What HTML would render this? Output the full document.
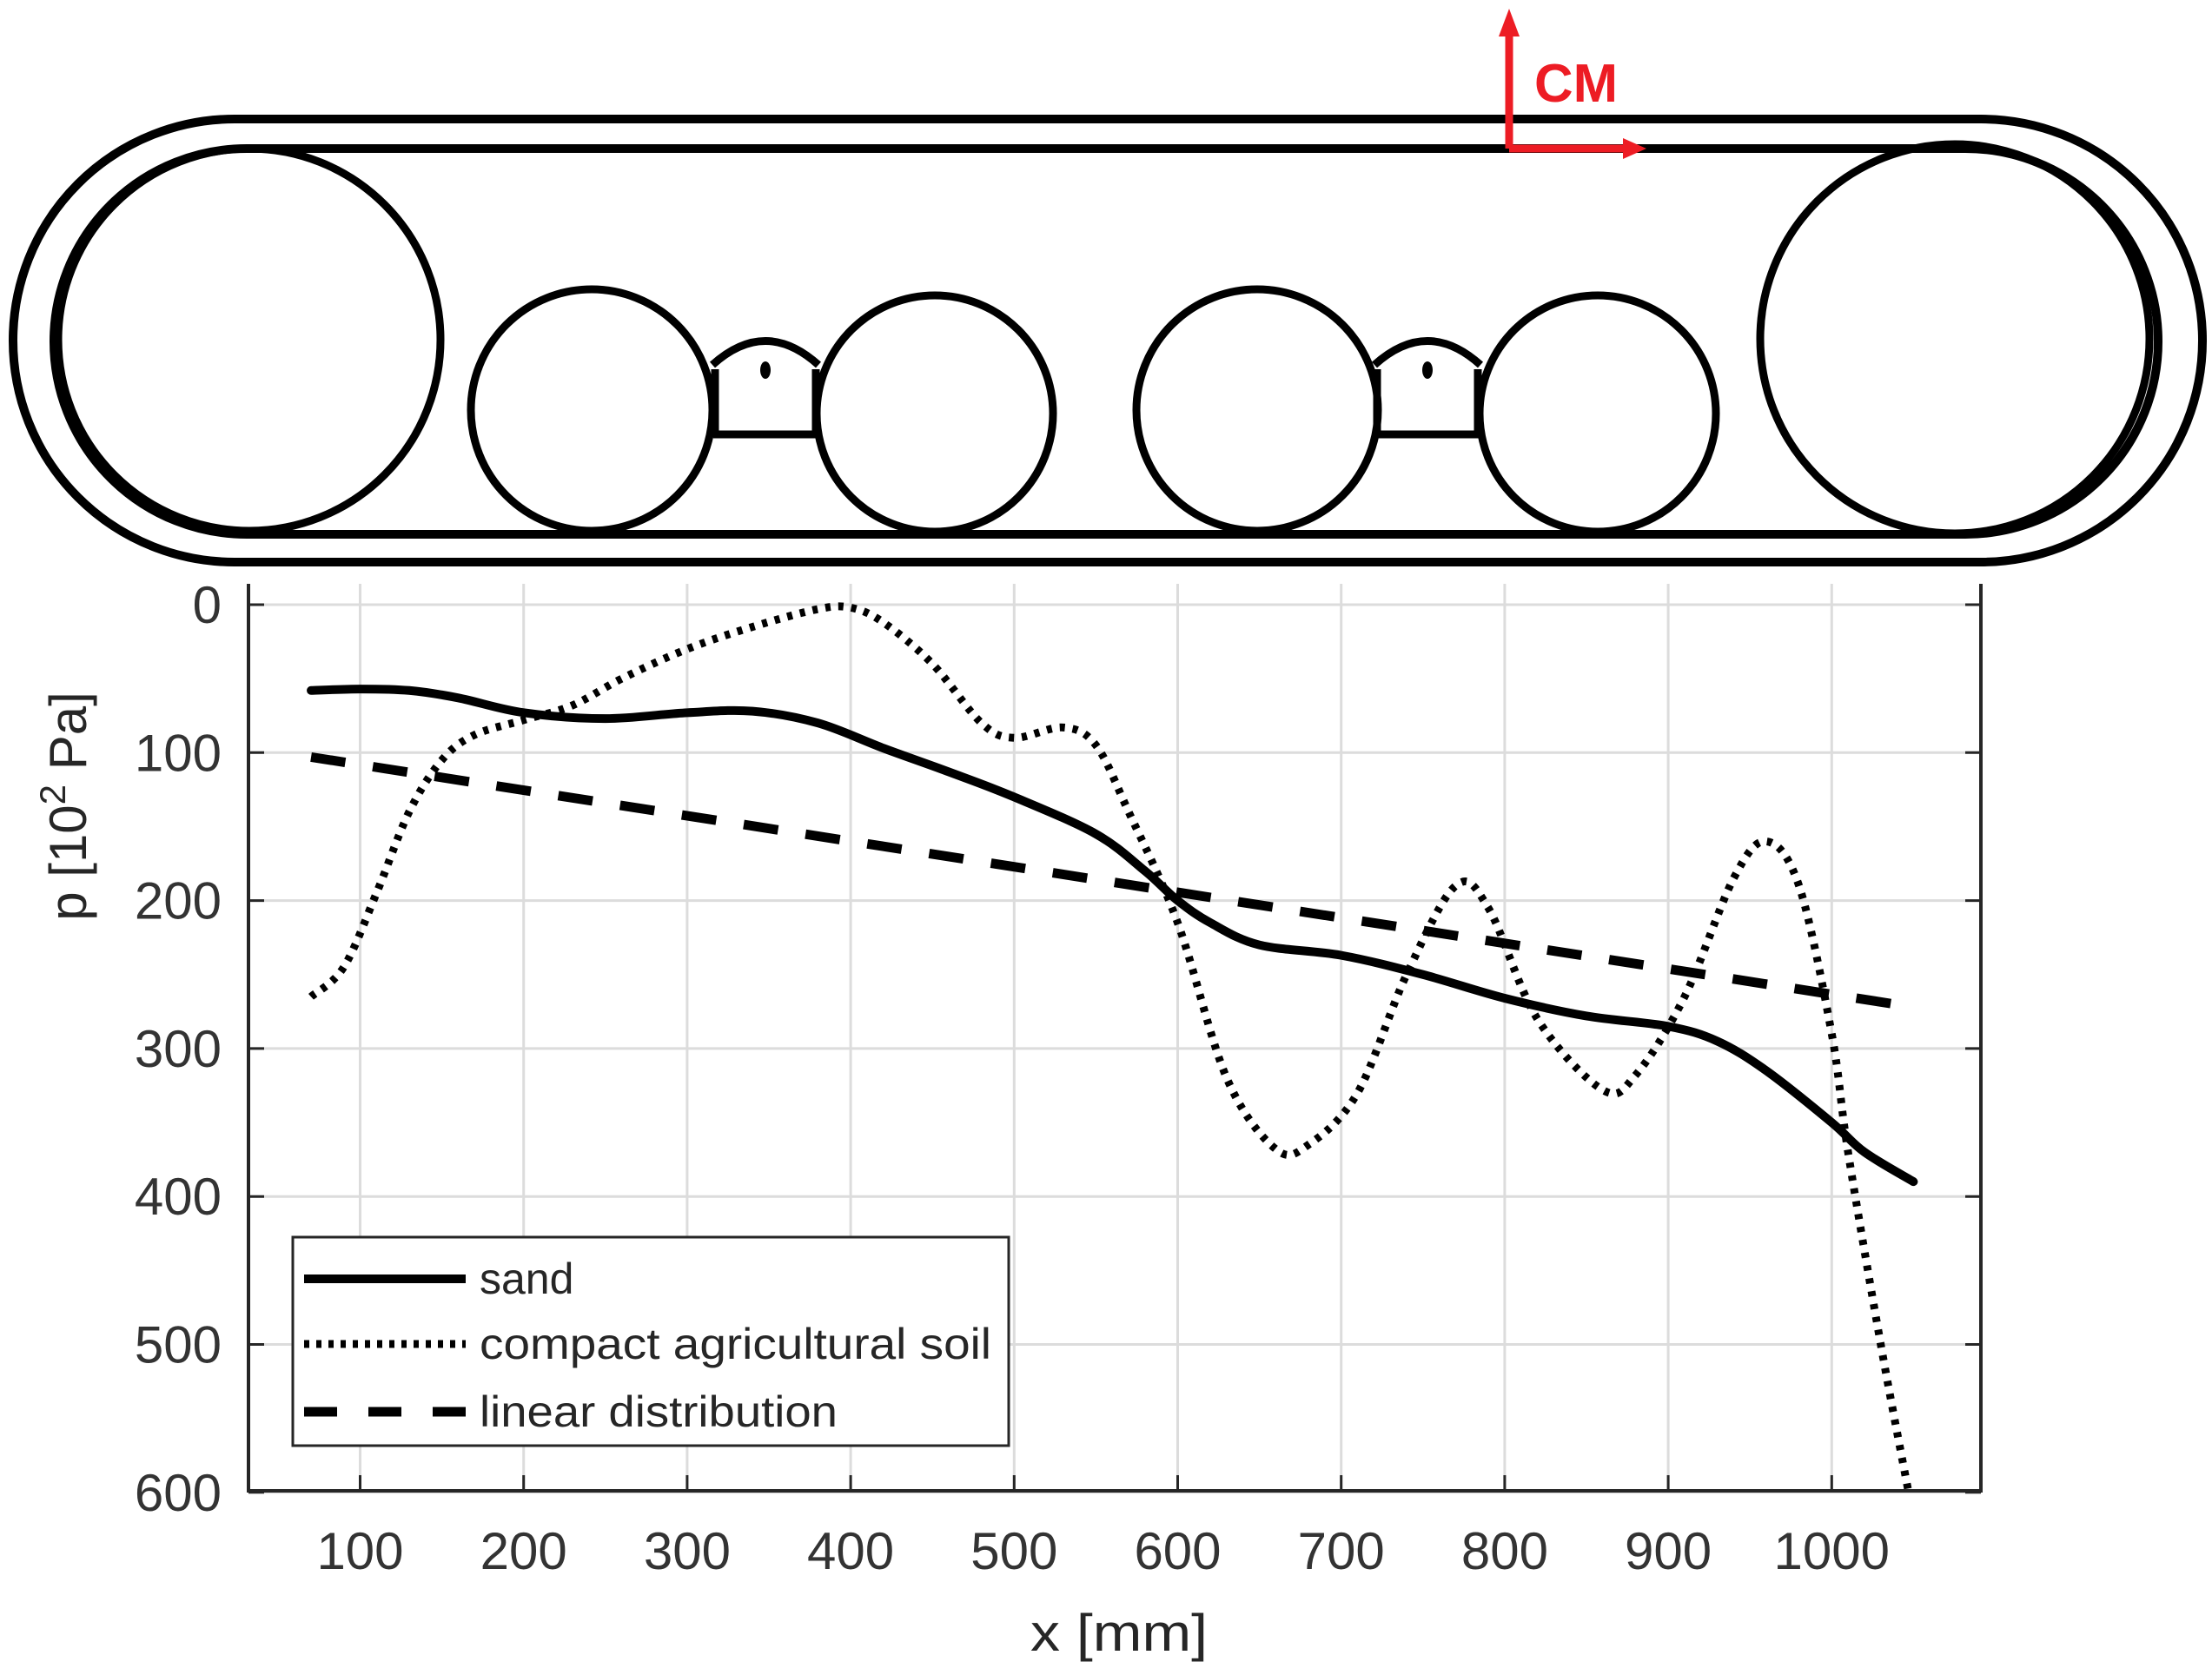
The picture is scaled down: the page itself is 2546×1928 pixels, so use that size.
<!DOCTYPE html>
<html><head><meta charset="utf-8"><style>
html,body{margin:0;padding:0;background:#fff}
svg{display:block}
text{font-family:"Liberation Sans",sans-serif}
</style></head><body>
<svg id="fig" width="2546" height="1928" viewBox="0 0 2546 1928" xmlns="http://www.w3.org/2000/svg">
<g id="track" fill="none" stroke="#000" stroke-width="10">
  <path d="M270,137 L2280,137 A255,255 0 0 1 2280,647 L270,647 A255,255 0 0 1 270,137 Z"/>
  <path d="M284,171 L2262,171 A222,222 0 0 1 2262,615 L284,615 A222,222 0 0 1 284,171 Z"/>
  <circle cx="287" cy="391" r="220" stroke-width="9"/>
  <circle cx="2250" cy="390" r="224" stroke-width="9"/>
  <circle cx="681" cy="472" r="139" stroke-width="9"/>
  <circle cx="1076" cy="476" r="136" stroke-width="9"/>
  <circle cx="1447" cy="472" r="139" stroke-width="9"/>
  <circle cx="1839" cy="476" r="136" stroke-width="9"/>
  <g stroke-width="9">
    <path d="M821,500 L941,500 M823,425 L823,500 M939,425 L939,500 M820,420 Q881,365 942,420"/>
    <ellipse cx="881" cy="426" rx="6" ry="10" fill="#000" stroke="none"/>
  </g>
  <g stroke-width="9">
    <path d="M1583,500 L1703,500 M1585,425 L1585,500 M1701,425 L1701,500 M1582,420 Q1643,365 1704,420"/>
    <ellipse cx="1643" cy="426" rx="6" ry="10" fill="#000" stroke="none"/>
  </g>
</g>
<g>
  <path d="M1737,171 L1737,22 M1737,171 L1880,171" stroke="#ed1c24" stroke-width="9" fill="none"/>
  <path d="M1737,10 L1725,42 L1749,42 Z" fill="#ed1c24"/>
  <path d="M1895,171 L1868,159 L1868,183 Z" fill="#ed1c24"/>
  <text x="1766" y="117" font-size="62" font-weight="bold" fill="#ed1c24" textLength="96" lengthAdjust="spacingAndGlyphs">CM</text>
</g>
<g id="grid"></g>
<g id="axes"></g>
<g id="series"></g>
<g id="legend">
  <rect x="337" y="1424" width="824" height="240" fill="#fff" stroke="#262626" stroke-width="3"/>
  <line x1="350" y1="1472" x2="536" y2="1472" stroke="#000" stroke-width="10"/>
  <text x="552" y="1489" font-size="50" fill="#262626">sand</text>
  <line x1="350" y1="1547" x2="536" y2="1547" stroke="#000" stroke-width="9" stroke-dasharray="6 8"/>
  <text x="552" y="1564" font-size="50" fill="#262626" textLength="589" lengthAdjust="spacingAndGlyphs">compact agricultural soil</text>
  <line x1="350" y1="1625" x2="536" y2="1625" stroke="#000" stroke-width="11" stroke-dasharray="38 36"/>
  <text x="552" y="1642" font-size="50" fill="#262626" textLength="412" lengthAdjust="spacingAndGlyphs">linear distribution</text>
</g>
<text x="1288" y="1900" font-size="60" fill="#262626" text-anchor="middle" textLength="204" lengthAdjust="spacingAndGlyphs">x [mm]</text>
<text transform="translate(99,928) rotate(-90)" font-size="60" fill="#262626" text-anchor="middle">p [10<tspan dy="-24" font-size="42">2</tspan><tspan dy="24"> Pa]</tspan></text>
</svg>
<script>
const xTicks=[100,200,300,400,500,600,700,800,900,1000];
const yTicks=[0,100,200,300,400,500,600];
const sandX=[70,100,130,160,200,250,300,340,380,420,460,500,550,580,600,620,650,700,750,800,850,900,930,960,1000,1020,1050];
const sandY=[58,57,58,63,73,77,73,72,80,97,113,130,155,180,200,215,230,237,250,266,278,285,295,315,350,370,390];
const soilX=[70,90,110,130,150,170,200,230,260,300,340,380,400,420,450,480,500,530,550,570,600,630,660,680,710,740,770,790,820,860,880,910,940,960,980,1000,1010,1030,1047];
const soilY=[265,245,195,140,105,88,78,68,50,30,15,3,2,12,40,80,90,83,95,140,215,320,368,365,330,250,190,205,280,328,318,265,185,160,190,290,370,500,600];
const linX=[70,1050];
const linY=[103,272];
const NS='http://www.w3.org/2000/svg';
const X=v=>226.3+v*1.882, Y=v=>696+v*1.703;
const L=286,R=2280,T=672,B=1716;
function mk(tag,attrs,parent){const e=document.createElementNS(NS,tag);for(const k in attrs)e.setAttribute(k,attrs[k]);parent.appendChild(e);return e;}
const grid=document.getElementById('grid'),axes=document.getElementById('axes'),ser=document.getElementById('series');
xTicks.forEach(t=>{
  const g=mk('line',{x1:X(t),x2:X(t),y1:T,y2:B,stroke:'#dcdcdc','stroke-width':3},grid);
  
  
  const tk=mk('line',{x1:X(t),x2:X(t),y1:B,y2:B-18,stroke:'#262626','stroke-width':3},axes);
  
  
  const tx=mk('text',{x:X(t),y:1806,'font-size':60,fill:'#333','text-anchor':'middle'},axes);
  
  
  tx.textContent=t;
});
yTicks.forEach(t=>{
  const g=mk('line',{x1:L,x2:R,y1:Y(t),y2:Y(t),stroke:'#dcdcdc','stroke-width':3},grid);
  
  
  const tk=mk('path',{d:`M${L},${Y(t)}h18M${R},${Y(t)}h-18`,stroke:'#262626','stroke-width':3},axes);
  
  
  const tx=mk('text',{x:255,y:Y(t)+21,'font-size':60,fill:'#333','text-anchor':'end'},axes);
  
  
  tx.textContent=t;
});
const ax=mk('path',{d:`M${L},${T}V${B}H${R}V${T}`,fill:'none',stroke:'#262626','stroke-width':4},axes);


function smooth(xs,ys){
  const p=xs.map((x,i)=>[X(x),Y(ys[i])]);
  let d=`M${p[0][0]},${p[0][1]}`;
  for(let i=0;i<p.length-1;i++){
    const p0=p[Math.max(0,i-1)],p1=p[i],p2=p[i+1],p3=p[Math.min(p.length-1,i+2)];
    const c1=[p1[0]+(p2[0]-p0[0])/6,p1[1]+(p2[1]-p0[1])/6];
    const c2=[p2[0]-(p3[0]-p1[0])/6,p2[1]-(p3[1]-p1[1])/6];
    d+=`C${c1[0]},${c1[1]} ${c2[0]},${c2[1]} ${p2[0]},${p2[1]}`;
  }
  return d;
}
const lin=mk('path',{d:smooth(linX,linY),fill:'none',stroke:'#000','stroke-width':11,'stroke-dasharray':'40 32'},ser);


const soil=mk('path',{d:smooth(soilX,soilY),fill:'none',stroke:'#000','stroke-width':9,'stroke-dasharray':'6 9'},ser);


const sand=mk('path',{d:smooth(sandX,sandY),fill:'none',stroke:'#000','stroke-width':10,'stroke-linecap':'round'},ser);


</script>
</body></html>
